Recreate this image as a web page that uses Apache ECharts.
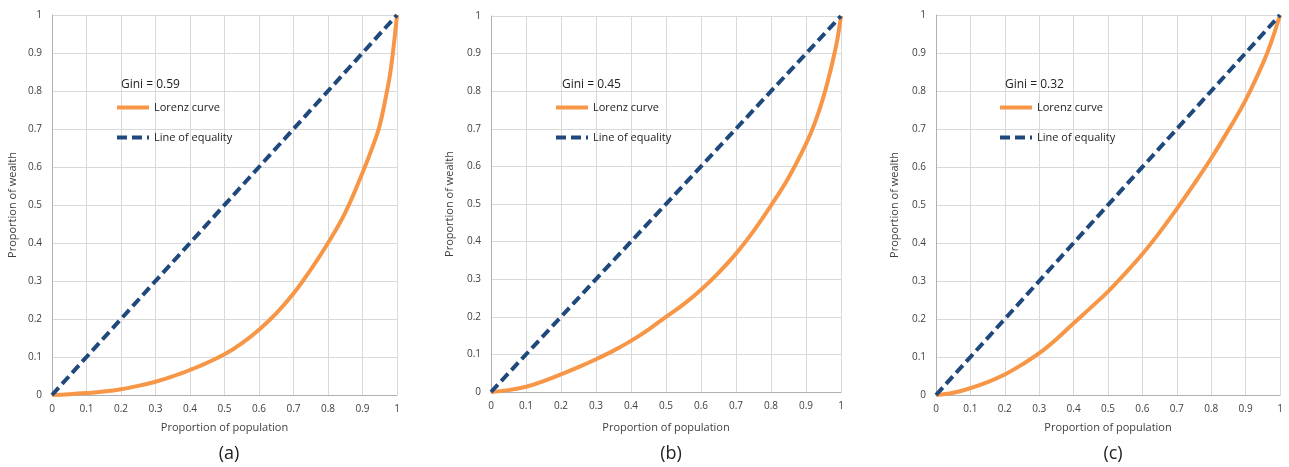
<!DOCTYPE html>
<html>
<head>
<meta charset="utf-8">
<script src="https://cdn.jsdelivr.net/npm/echarts@6/dist/echarts.min.js"></script>
<style>html,body{margin:0;padding:0;background:#fff}#c{width:1289px;height:467px}</style>
</head>
<body>
<div id="c"></div>
<script>
// ---- data ----
const panelLabels = ['(a)', '(b)', '(c)'];
const giniLabels = ['Gini = 0.59', 'Gini = 0.45', 'Gini = 0.32'];
const equalityLine = [[0, 0], [1, 1]];
const lorenzA = [[0,0],[0.05,0.002],[0.1,0.005],[0.15,0.009],[0.2,0.015],[0.25,0.024],[0.3,0.035],[0.35,0.049],[0.4,0.066],[0.45,0.085],[0.5,0.107],[0.55,0.136],[0.6,0.172],[0.65,0.215],[0.7,0.267],[0.75,0.33],[0.8,0.40],[0.85,0.48],[0.9,0.585],[0.93,0.655],[0.95,0.71],[0.97,0.795],[0.98,0.845],[0.99,0.915],[1,1]];
const lorenzB = [[0,0],[0.05,0.005],[0.1,0.014],[0.15,0.029],[0.2,0.047],[0.25,0.066],[0.3,0.087],[0.35,0.11],[0.4,0.136],[0.45,0.166],[0.5,0.2],[0.55,0.233],[0.6,0.272],[0.65,0.317],[0.7,0.368],[0.75,0.428],[0.8,0.496],[0.85,0.57],[0.9,0.66],[0.925,0.715],[0.95,0.785],[0.97,0.855],[0.98,0.895],[0.99,0.94],[1,1]];
const lorenzC = [[0,0],[0.05,0.006],[0.1,0.018],[0.15,0.034],[0.2,0.054],[0.25,0.08],[0.3,0.11],[0.35,0.147],[0.4,0.189],[0.45,0.23],[0.5,0.272],[0.55,0.32],[0.6,0.371],[0.65,0.428],[0.7,0.49],[0.75,0.555],[0.8,0.623],[0.85,0.697],[0.9,0.776],[0.95,0.872],[0.975,0.93],[1,1]];
const lorenzSets = [lorenzA, lorenzB, lorenzC];
const xAxisName = 'Proportion of population';
const yAxisName = 'Proportion of wealth';

// ---- layout ----
const grids = [
  {left: 52, top: 15, width: 345, height: 380},
  {left: 491, top: 16, width: 350, height: 376},
  {left: 936, top: 15, width: 344, height: 380}
];
const giniPos = [[116, 74], [557, 74], [1000, 74]];
const legendPos = [[115, 102], [554, 102], [998, 102]];
const labelX = [224, 666, 1108];
const xNameGap = [27, 30, 27];

const FONT = 'Open Sans';
const ORANGE = '#F79646';
const BLUE = '#1F497D';

const option = {
  animation: false,
  backgroundColor: '#fff',
  textStyle: {fontFamily: FONT},
  grid: grids,
  title: [],
  legend: [],
  xAxis: [],
  yAxis: [],
  series: []
};

grids.forEach((g, i) => {
  option.xAxis.push({
    type: 'value', gridIndex: i, min: 0, max: 1, interval: 0.1,
    name: xAxisName, nameLocation: 'middle', nameGap: xNameGap[i],
    nameTextStyle: {fontSize: 11, color: '#404040', fontFamily: FONT},
    axisLine: {show: true, lineStyle: {color: '#b0b0b0', width: 1}},
    axisTick: {show: false},
    axisLabel: {fontSize: 10, color: '#404040', margin: 9, fontFamily: FONT},
    splitLine: {show: true, lineStyle: {color: '#d9d9d9', width: 1}}
  });
  option.yAxis.push({
    type: 'value', gridIndex: i, min: 0, max: 1, interval: 0.1,
    name: yAxisName, nameLocation: 'middle', nameGap: i === 0 ? 34 : 36,
    nameTextStyle: {fontSize: 11, color: '#404040', fontFamily: FONT},
    axisLine: {show: true, lineStyle: {color: '#b0b0b0', width: 1}},
    axisTick: {show: false},
    axisLabel: {fontSize: 10, color: '#404040', margin: 10, fontFamily: FONT},
    splitLine: {show: true, lineStyle: {color: '#d9d9d9', width: 1}}
  });
  option.series.push({
    name: 'Lorenz curve', type: 'line', xAxisIndex: i, yAxisIndex: i,
    data: lorenzSets[i], smooth: 0.4, symbol: 'none',
    lineStyle: {color: ORANGE, width: 4}, itemStyle: {color: ORANGE}, z: 3
  });
  option.series.push({
    name: 'Line of equality', type: 'line', xAxisIndex: i, yAxisIndex: i,
    data: equalityLine, symbol: 'none',
    lineStyle: {color: BLUE, width: 4, type: [10, 5]}, itemStyle: {color: BLUE}, z: 4
  });
  option.title.push({
    text: giniLabels[i], left: giniPos[i][0], top: giniPos[i][1],
    textStyle: {fontSize: 12, fontWeight: 'normal', color: '#222', fontFamily: FONT}
  });
  option.title.push({
    text: panelLabels[i], left: labelX[i], top: 440, textAlign: 'center',
    textStyle: {fontSize: 18, fontWeight: 'normal', color: '#222', fontFamily: FONT}
  });
  option.legend.push({
    data: ['Lorenz curve', 'Line of equality'],
    orient: 'vertical', left: legendPos[i][0], top: legendPos[i][1],
    itemWidth: 32, itemHeight: 10, itemGap: 19, padding: 0,
    selectedMode: false,
    lineStyle: {width: 4},
    itemStyle: {opacity: 0},
    textStyle: {fontSize: 11, color: '#222', fontFamily: FONT}
  });
});

const chart = echarts.init(document.getElementById('c'), null, {renderer: 'canvas'});
chart.setOption(option);
</script>
</body>
</html>
